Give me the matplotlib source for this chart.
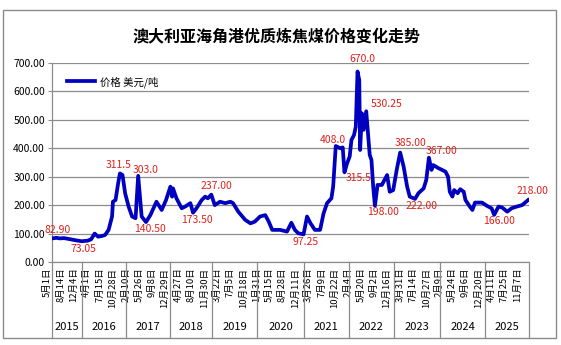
import matplotlib
matplotlib.use("Agg")
import matplotlib.pyplot as plt
import matplotlib.transforms as mtransforms
from matplotlib.patches import Rectangle

plt.rcParams['font.family'] = ['Noto Sans CJK SC', 'DejaVu Sans']

# ---- data (week index along the category axis, price USD/t) ----
week_idx = [0, 5, 9, 14, 21, 28, 34, 41, 45, 49, 53, 58, 61, 65, 69, 70, 73, 76, 78, 81,
            84, 88, 92, 96, 99, 101, 103, 108, 113, 120, 126, 131, 136, 138, 139, 143,
            149, 153, 159, 162, 166, 172, 176, 179, 183, 187, 193, 199, 205, 208, 214,
            222, 228, 233, 239, 245, 249, 253, 262, 270, 275, 279, 283, 289, 293, 297,
            302, 308, 312, 316, 321, 323, 326, 331, 334, 336, 339, 342, 344, 347, 349,
            351, 353, 354, 356, 358, 361, 363, 365, 367, 369, 371, 374, 379, 381, 385,
            388, 392, 396, 400, 404, 408, 411, 417, 421, 427, 430, 433, 436, 438, 444,
            452, 455, 457, 460, 462, 466, 469, 473, 475, 480, 483, 486, 494, 500, 505,
            508, 513, 517, 523, 528, 534, 540, 547]
price = [82.90, 85, 83, 84, 80, 76, 73.05, 75, 80, 100, 89, 92, 95, 113, 160, 212, 218, 277, 311.5, 306,
         242, 195, 160, 154, 303.0, 230, 160, 140.50, 165, 212, 183, 218, 265, 230, 259, 224,
         189, 195, 207, 173.50, 189, 218, 230, 224, 237.00, 200, 212, 207, 212, 207, 177,
         148, 136, 142, 160, 165, 142, 113, 113, 107, 138, 113, 101, 97.25, 160, 136,
         113, 113, 171, 207, 224, 265, 408.0, 400, 403, 315.5, 347, 371, 429, 447, 476,
         670.0, 640, 394, 523, 465, 530.25, 453, 377, 359, 265, 198.00, 271, 271, 283, 306,
         247, 253, 324, 385.00, 335, 265, 230, 222.00, 242, 259, 289, 367.00, 324, 341, 330,
         318, 300, 247, 230, 253, 242, 256, 247, 218, 195, 183, 209, 209, 197, 189,
         166.00, 195, 192, 177, 189, 195, 200, 218.00]

tick_labels = ['5月1日', '8月14日', '12月4日',
               '4月1日', '7月15日', '10月28日',
               '2月10日', '5月26日', '9月8日', '12月29日',
               '4月27日', '8月10日', '11月30日',
               '3月22日', '7月5日', '10月18日',
               '1月31日', '5月15日', '8月28日', '12月11日',
               '3月26日', '7月9日', '10月22日',
               '2月4日', '5月20日', '9月2日', '12月16日',
               '3月31日', '7月14日', '10月27日',
               '2月9日', '5月24日', '9月6日', '12月20日',
               '4月11日', '7月25日', '11月7日']
tick_step = 15
years = ['2015', '2016', '2017', '2018', '2019', '2020', '2021', '2022', '2023', '2024', '2025']
year_bounds = [0, 35, 85, 136, 184, 236, 289, 341, 393, 446, 498, 548]

# labelled points: (week index of point, text, dx px, dy px)
labels = [(0, '82.90', 6, 8), (34, '73.05', 2, -8), (78, '311.5', -1, 8),
          (99, '303.0', 7, 6), (108, '140.50', 4, -7), (183, '237.00', 5, 9),
          (162, '173.50', 4, -7), (289, '97.25', 2, -8), (326, '408.0', -3, 6),
          (351, '670.0', 5, 13), (361, '530.25', 20, 7), (336, '315.5', 14, -6),
          (371, '198.00', 8, -6), (400, '385.00', 10, 10), (433, '367.00', 13, 7),
          (417, '222.00', 7, -7), (508, '166.00', 5, -6), (547, '218.00', 4, 9)]

title = '澳大利亚海角港优质炼焦煤价格变化走势'
series_name = '价格 美元/吨'

# ---- figure ----
W, H = 561, 345
fig = plt.figure(figsize=(W / 100, H / 100), dpi=100)
fig.patch.set_facecolor('white')
fig.patches.append(Rectangle((3 / W, 1 - 338 / H), 553 / W, 328 / H, transform=fig.transFigure,
                             fill=False, edgecolor='#8c8c8c', linewidth=1.0))

ax_l, ax_r, ax_t, ax_b = 52, 529, 63, 262
ax = fig.add_axes([ax_l / W, 1 - ax_b / H, (ax_r - ax_l) / W, (ax_b - ax_t) / H])

line, = ax.plot(week_idx, price, color='#0000c0', linewidth=2.7, solid_joinstyle='round',
                label=series_name, zorder=3)

ax.set_xlim(year_bounds[0], year_bounds[-1])
ax.set_ylim(0, 700)
ax.set_yticks(range(0, 701, 100))
ax.set_yticklabels([f'{v:.2f}' for v in range(0, 701, 100)], fontsize=7.5)
ax.yaxis.grid(True, color='#8c8c8c', linewidth=0.9)
ax.set_axisbelow(True)
for s in ['top', 'right']:
    ax.spines[s].set_visible(False)
for s in ['left', 'bottom']:
    ax.spines[s].set_color('#8c8c8c')
    ax.spines[s].set_linewidth(0.9)
ax.tick_params(axis='y', length=3, color='#8c8c8c', pad=2)

ax.set_xticks([i * tick_step for i in range(len(tick_labels))])
ax.set_xticklabels(tick_labels, rotation=90, fontsize=6.8, va='top', ha='center')
ax.tick_params(axis='x', length=0, pad=4)
off = mtransforms.ScaledTranslation(-4.5 / 100, 0, fig.dpi_scale_trans)
for lab in ax.get_xticklabels():
    lab.set_transform(lab.get_transform() + off)

# year separators and labels
trans = mtransforms.blended_transform_factory(ax.transData, ax.transAxes)
sep_bottom = -(338 - ax_b) / (ax_b - ax_t)
for b in year_bounds:
    ax.plot([b, b], [0, sep_bottom], transform=trans, color='#8c8c8c', linewidth=0.9,
            clip_on=False)
year_y = -(327 - ax_b) / (ax_b - ax_t)
for i, y in enumerate(years):
    ax.text((year_bounds[i] + year_bounds[i + 1]) / 2, year_y, y, transform=trans,
            ha='center', va='center', fontsize=8)

# data labels
for wk, txt, dx, dy in labels:
    k = week_idx.index(wk)
    ax.annotate(txt, xy=(week_idx[k], price[k]), xytext=(dx, dy), textcoords='offset pixels',
                ha='center', va='center', color='#e0201c', fontsize=7.5, zorder=4)

ax.legend(handles=[line], loc='upper left', bbox_to_anchor=(0.028, 0.945), frameon=False,
          fontsize=7.5, handlelength=2.6, handletextpad=0.5, borderaxespad=0, borderpad=0.2)

fig.text(277 / W, 1 - 36 / H, title, ha='center', va='center', fontsize=11.5, fontweight='bold')

fig.savefig('out.png', dpi=100)
